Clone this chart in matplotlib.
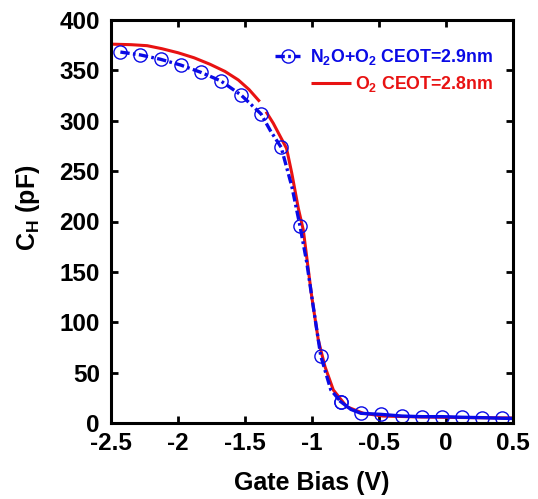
import numpy as np
import matplotlib
matplotlib.use('Agg')
import matplotlib.pyplot as plt

# N2O+O2 curve (CEOT=2.9nm)
blue_v = [-2.43, -2.28, -2.13, -1.98, -1.83, -1.68, -1.53, -1.38, -1.31, -1.23,
          -1.15, -1.09, -1.04, -0.99, -0.935, -0.86, -0.785, -0.71, -0.635, -0.485,
          -0.33, -0.18, -0.03, 0.12, 0.27, 0.42, 0.50]
blue_c = [368.2, 365.3, 361.0, 355.3, 348.1, 339.5, 325.6, 306.7, 290.0, 273.6,
          234.5, 195.8, 160.0, 115.0, 66.8, 33.0, 21.1, 13.5, 9.6, 8.6,
          6.9, 6.3, 6.3, 5.7, 5.3, 4.7, 4.5]
blue_marker_idx = [0, 1, 2, 3, 4, 5, 6, 7, 9, 11, 14, 16, 18, 19, 20, 21, 22, 23, 24, 25]

# O2 curve (CEOT=2.8nm), the reference has a short break near -1.37 V
red_v = [-2.49, -2.35, -2.23, -2.12, -2.0, -1.88, -1.76, -1.65, -1.55, -1.47, -1.39,
         np.nan, -1.343, -1.289, -1.19, -1.151, -1.102, -1.065, -1.002, -0.953,
         -0.903, -0.841, -0.741, -0.617, -0.47, -0.2, 0.2, 0.5]
red_c = [376.0, 375.5, 374.5, 371.5, 367.5, 362.5, 356.0, 349.0, 340.5, 331.0, 319.0,
         np.nan, 309.0, 297.5, 272.6, 248.0, 213.0, 191.6, 125.4, 82.4,
         55.9, 32.8, 16.2, 9.6, 6.9, 6.0, 5.3, 5.0]

x_ticks = [-2.5, -2, -1.5, -1, -0.5, 0, 0.5]
x_labels = ['-2.5', '-2', '-1.5', '-1', '-0.5', '0', '0.5']
y_ticks = [0, 50, 100, 150, 200, 250, 300, 350, 400]
y_labels = ['0', '50', '100', '150', '200', '250', '300', '350', '400']

plt.rcParams['font.family'] = 'Liberation Sans'
plt.rcParams['font.weight'] = 'bold'
plt.rcParams['mathtext.fontset'] = 'custom'
plt.rcParams['mathtext.rm'] = 'Liberation Sans:bold'
plt.rcParams['mathtext.it'] = 'Liberation Sans:bold'
plt.rcParams['mathtext.bf'] = 'Liberation Sans:bold'
plt.rcParams['mathtext.default'] = 'rm'

BLUE = '#0a0ae6'
RED = '#e81212'

fig, ax = plt.subplots(figsize=(5.38, 4.99), dpi=100)
fig.subplots_adjust(left=111 / 538, right=513 / 538, top=1 - 20 / 499, bottom=1 - 423 / 499)

red_line, = ax.plot(red_v, red_c, color=RED, lw=2.2, solid_capstyle='butt')

split = 16  # dash-dot through the steep part, solid along the flat tail
blue_line, = ax.plot(blue_v[:split + 1], blue_c[:split + 1], color=BLUE, lw=2.4,
                     linestyle=(0, (2.8, 1.0, 0.8, 1.0)),
                     marker='o', markersize=9.5, markerfacecolor='none',
                     markeredgecolor=BLUE, markeredgewidth=1.0,
                     markevery=[i for i in blue_marker_idx if i <= split])
ax.plot(blue_v[split:], blue_c[split:], color=BLUE, lw=2.4,
        marker='o', markersize=9.5, markerfacecolor='none',
        markeredgecolor=BLUE, markeredgewidth=1.0,
        markevery=[i - split for i in blue_marker_idx if i >= split])

ax.set_xlim(-2.5, 0.5)
ax.set_ylim(0, 400)
ax.set_xticks(x_ticks)
ax.set_xticklabels(x_labels)
ax.set_yticks(y_ticks)
ax.set_yticklabels(y_labels)
ax.tick_params(direction='in', length=5, width=2, top=True, right=True, labelsize=17.5)
ax.tick_params(axis='x', pad=6.5)
ax.tick_params(axis='y', pad=8)
for sp in ax.spines.values():
    sp.set_linewidth(2.2)

ax.set_xlabel('Gate Bias (V)', fontsize=18, fontweight='bold', labelpad=11.5)
ax.set_ylabel(r'C$_\mathrm{H}$ (pF)', fontsize=18, fontweight='bold')
ax.yaxis.set_label_coords(-0.172, 0.535)

leg_font = {'family': 'Liberation Sans', 'weight': 'bold', 'size': 12.8}
leg1 = ax.legend([blue_line], [r'N$_2$O+O$_2$ CEOT=2.9nm'], loc='upper right',
                 bbox_to_anchor=(0.95, 0.932), frameon=False, prop=leg_font,
                 handlelength=1.4, handletextpad=0.55, borderpad=0, borderaxespad=0,
                 labelcolor=BLUE)
ax.add_artist(leg1)
ax.legend([red_line], [r'O$_2$ CEOT=2.8nm'], loc='upper right',
          bbox_to_anchor=(0.95, 0.866), frameon=False, prop=leg_font,
          handlelength=2.25, handletextpad=0.2, borderpad=0, borderaxespad=0,
          labelcolor=RED)

fig.savefig('out.png', dpi=100)
